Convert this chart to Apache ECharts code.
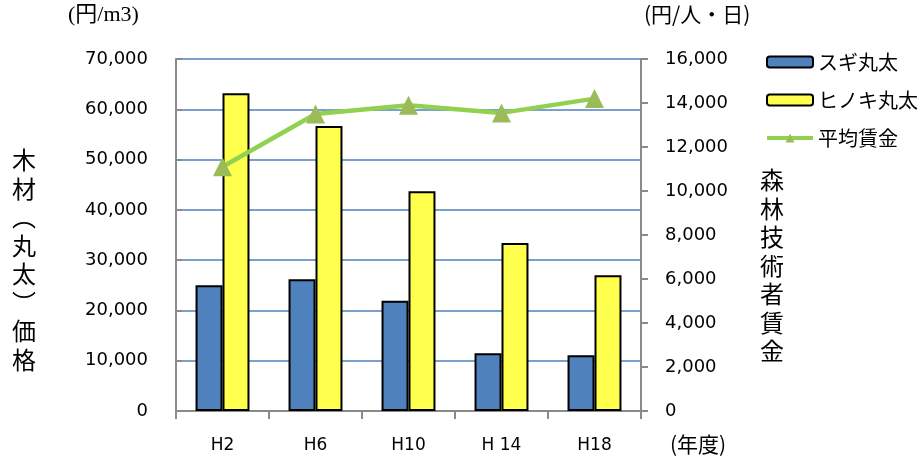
<!DOCTYPE html>
<html>
<head>
<meta charset="utf-8">
<script src="https://cdn.jsdelivr.net/npm/echarts@6/dist/echarts.min.js"></script>
<style>
  html, body { margin: 0; padding: 0; background: #fff; }
  #chart { width: 920px; height: 464px; }
</style>
</head>
<body>
<div id="chart"></div>
<script>
// 年度
const years = ['H2', 'H6', 'H10', 'H 14', 'H18'];
// 木材（丸太）価格 円/m3
const sugiPrice = [25000, 26200, 21900, 11500, 11100];
const hinokiPrice = [63200, 56700, 43700, 33400, 27000];
// 森林技術者賃金 円/人・日
const avgWage = [11100, 13500, 13900, 13550, 14200];

const jp = '"Noto Sans CJK JP", sans-serif';
const num = '"DejaVu Sans", Verdana, sans-serif';
const serif = '"Liberation Serif", "Noto Sans CJK JP", serif';

const chart = echarts.init(document.getElementById('chart'));
chart.setOption({
  backgroundColor: '#fff',
  animation: false,
  grid: { left: 176, right: 279, top: 59, bottom: 53 },
  legend: {
    orient: 'vertical',
    left: 765,
    top: 52,
    padding: 0,
    itemWidth: 46,
    itemHeight: 11,
    itemGap: 18,
    textStyle: { fontFamily: jp, fontSize: 20, color: '#000' },
    data: [
      { name: 'スギ丸太' },
      { name: 'ヒノキ丸太' },
      { name: '平均賃金', lineStyle: { width: 4 } }
    ]
  },
  xAxis: {
    type: 'category',
    data: years,
    axisLine: { lineStyle: { color: '#8a8a8a', width: 2 } },
    axisTick: { show: true, length: 8, lineStyle: { color: '#8a8a8a', width: 2 } },
    axisLabel: { fontFamily: num, fontSize: 17, color: '#000', margin: 26 }
  },
  yAxis: [
    {
      type: 'value',
      min: 0, max: 70000, interval: 10000,
      axisLine: { show: true, lineStyle: { color: '#8a8a8a', width: 2 } },
      axisTick: { show: true, inside: true, length: 6, lineStyle: { color: '#8a8a8a', width: 2 } },
      axisLabel: {
        fontFamily: num, fontSize: 18, color: '#000', margin: 28,
        formatter: v => v.toLocaleString('en-US')
      },
      splitLine: { lineStyle: { color: '#4f81bd', width: 1.5 } }
    },
    {
      type: 'value',
      min: 0, max: 16000, interval: 2000,
      position: 'right',
      axisLine: { show: true, lineStyle: { color: '#8a8a8a', width: 2 } },
      axisTick: { show: true, length: 7, lineStyle: { color: '#8a8a8a', width: 2 } },
      axisLabel: {
        fontFamily: num, fontSize: 18, color: '#000', margin: 24,
        formatter: v => v.toLocaleString('en-US')
      },
      splitLine: { show: false }
    }
  ],
  series: [
    {
      name: 'スギ丸太',
      type: 'bar',
      data: sugiPrice,
      barGap: '0%',
      barCategoryGap: '42%',
      itemStyle: { color: '#4f81bd', borderColor: '#000', borderWidth: 2 }
    },
    {
      name: 'ヒノキ丸太',
      type: 'bar',
      data: hinokiPrice,
      barGap: '0%',
      barCategoryGap: '42%',
      itemStyle: { color: '#ffff4d', borderColor: '#000', borderWidth: 2 }
    },
    {
      name: '平均賃金',
      type: 'line',
      yAxisIndex: 1,
      data: avgWage,
      symbol: 'triangle',
      symbolSize: 19,
      lineStyle: { color: '#92d050', width: 4.5 },
      itemStyle: { color: '#9bbb59' },
      z: 5
    }
  ],
  graphic: [
    {
      type: 'text', left: 68, top: 4,
      style: { text: '(円/m3)', font: '22px ' + serif, fill: '#000' }
    },
    {
      type: 'text', left: 644, top: 4,
      style: { text: '(円/人・日)', font: '21px ' + jp, fill: '#000' }
    },
    {
      type: 'text', left: 670, top: 434,
      style: { text: '(年度)', font: '21px ' + jp, fill: '#000' }
    },
    {
      type: 'text', left: 12, top: 146,
      style: {
        text: ['木', '材', '︵', '丸', '太', '︶', '価', '格'].join('\n'),
        font: '24px ' + jp, lineHeight: 28.5, fill: '#000'
      }
    },
    {
      type: 'text', left: 760, top: 166,
      style: {
        text: ['森', '林', '技', '術', '者', '賃', '金'].join('\n'),
        font: '24px ' + jp, lineHeight: 28.5, fill: '#000'
      }
    }
  ]
});
</script>
</body>
</html>
